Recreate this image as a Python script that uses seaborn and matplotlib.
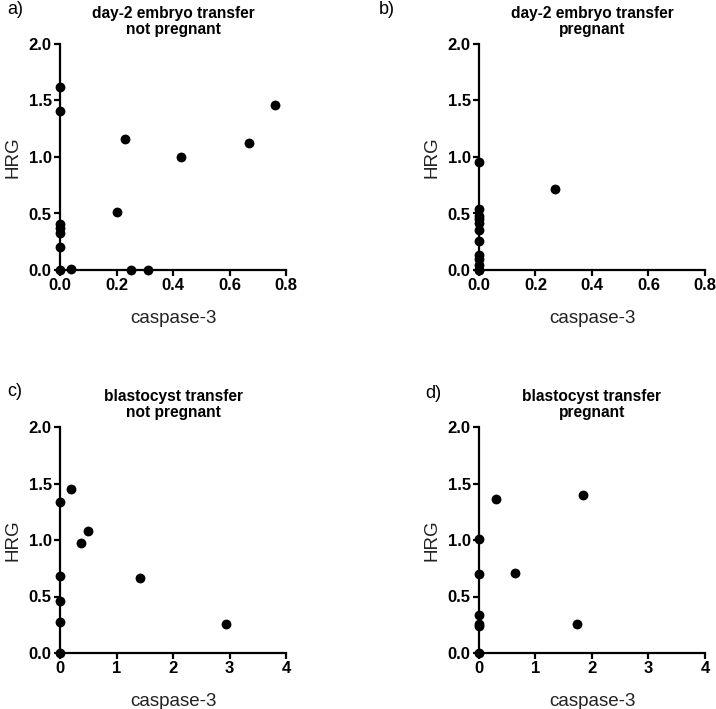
import matplotlib
matplotlib.use("Agg")
import matplotlib.pyplot as plt
import pandas as pd
import seaborn as sns

sns.set_style("ticks")
plt.rcParams["font.family"] = ["Liberation Sans", "DejaVu Sans"]
plt.rcParams["text.color"] = "black"
plt.rcParams["axes.labelcolor"] = "#222222"

# panel a: day-2 embryo transfer, not pregnant
a_casp = [0, 0, 0, 0, 0, 0, 0, 0.04, 0.20, 0.23, 0.25, 0.31, 0.43, 0.67, 0.76]
a_hrg = [1.62, 1.41, 0.41, 0.37, 0.33, 0.20, 0.0, 0.01, 0.51, 1.16, 0.0, 0.0, 1.00, 1.12, 1.46]

# panel b: day-2 embryo transfer, pregnant
b_casp = [0, 0, 0, 0, 0, 0, 0, 0, 0, 0, 0, 0, 0.27]
b_hrg = [0.96, 0.54, 0.48, 0.45, 0.42, 0.35, 0.26, 0.13, 0.10, 0.04, 0.0, 0.0, 0.72]

# panel c: blastocyst transfer, not pregnant
c_casp = [0, 0, 0, 0, 0, 0.20, 0.38, 0.50, 1.41, 2.94]
c_hrg = [1.34, 0.68, 0.46, 0.27, 0.0, 1.45, 0.97, 1.08, 0.66, 0.26]

# panel d: blastocyst transfer, pregnant
d_casp = [0, 0, 0, 0, 0, 0, 0.30, 0.64, 1.84, 1.73]
d_hrg = [1.01, 0.70, 0.34, 0.26, 0.24, 0.0, 1.36, 0.71, 1.40, 0.26]

titles = ["day-2 embryo transfer\nnot pregnant", "day-2 embryo transfer\npregnant",
          "blastocyst transfer\nnot pregnant", "blastocyst transfer\npregnant"]
letters = ["a)", "b)", "c)", "d)"]
xmax = [0.8, 0.8, 4, 4]
xticks = [[0.0, 0.2, 0.4, 0.6, 0.8], [0.0, 0.2, 0.4, 0.6, 0.8], [0, 1, 2, 3, 4], [0, 1, 2, 3, 4]]
xfmt = ["{:.1f}", "{:.1f}", "{:d}", "{:d}"]
data = [(a_casp, a_hrg), (b_casp, b_hrg), (c_casp, c_hrg), (d_casp, d_hrg)]

fig = plt.figure(figsize=(7.16, 7.09), dpi=100)
W, H = 716, 709
# axes boxes in pixels: left, top, width, height
boxes = [(60, 44, 226, 226), (479, 44, 226, 226), (60, 427, 226, 226), (479, 427, 226, 226)]
letter_pos = [(7, 10), (379, 10), (7, 392), (425, 393)]

for i in range(4):
    l, t, w, h = boxes[i]
    ax = fig.add_axes([l / W, (H - t - h) / H, w / W, h / H])
    df = pd.DataFrame({"caspase-3": data[i][0], "HRG": data[i][1]})
    sns.scatterplot(data=df, x="caspase-3", y="HRG", ax=ax, color="black",
                    s=50, edgecolor="black", linewidth=0, clip_on=False, zorder=3)
    ax.set_xlim(0, xmax[i])
    ax.set_ylim(0, 2.0)
    ax.set_xticks(xticks[i])
    ax.set_xticklabels([xfmt[i].format(v) for v in xticks[i]])
    ax.set_yticks([0.0, 0.5, 1.0, 1.5, 2.0])
    ax.set_yticklabels(["0.0", "0.5", "1.0", "1.5", "2.0"])
    sns.despine(ax=ax)
    for side in ["left", "bottom"]:
        ax.spines[side].set_linewidth(1.6)
        ax.spines[side].set_color("black")
    ax.tick_params(width=1.6, length=4, labelsize=12, colors="black", pad=2)
    for lab in ax.get_xticklabels() + ax.get_yticklabels():
        lab.set_fontweight("bold")
    ax.set_xlabel("caspase-3", fontsize=13.5, labelpad=12)
    ax.set_ylabel("HRG", fontsize=13.5, labelpad=5)
    ax.set_title(titles[i], fontsize=11.2, fontweight="bold", pad=7, linespacing=1.1)
    fig.text(letter_pos[i][0] / W, 1 - letter_pos[i][1] / H, letters[i],
             fontsize=13, ha="left", va="center")

fig.savefig("out.png", dpi=100)
